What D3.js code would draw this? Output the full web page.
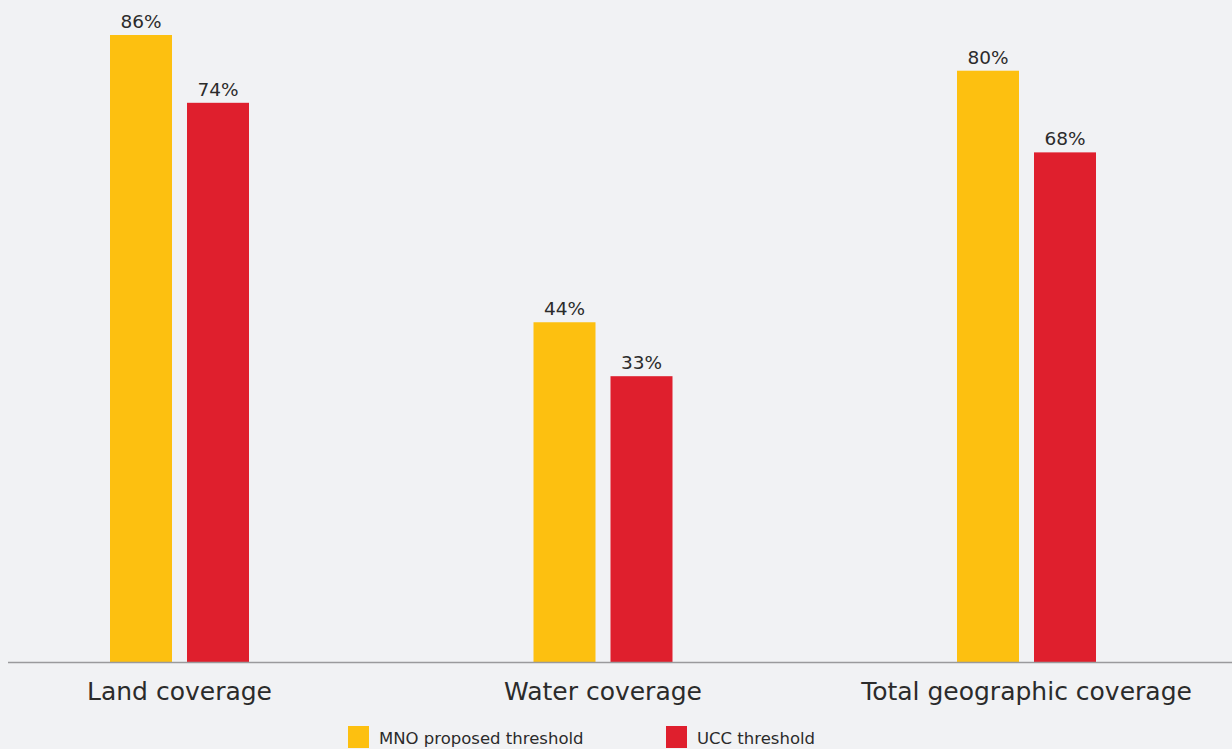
<!DOCTYPE html>
<html>
<head>
<meta charset="utf-8">
<script src="https://cdn.jsdelivr.net/npm/d3@7"></script>
<style>
  html, body { margin: 0; padding: 0; background: #f1f2f4; }
  svg { display: block; }
  text { font-family: "DejaVu Sans", sans-serif; fill: #2b2b2b; }
</style>
</head>
<body>
<svg id="chart" width="1232" height="749"></svg>
<script>
// Data
const categories = ["Land coverage", "Water coverage", "Total geographic coverage"];
const seriesNames = ["MNO proposed threshold", "UCC threshold"];
// Bar heights (percent)
const mnoValues = [86, 46.6, 81.1];
const uccValues = [76.7, 39.2, 69.9];
// Labels printed above the bars
const mnoLabels = ["86%", "44%", "80%"];
const uccLabels = ["74%", "33%", "68%"];
const colors = ["#fdc010", "#df1f2d"];

const svg = d3.select("#chart");
const W = 1232, H = 749;
const baseY = 662;

const x = d3.scaleBand().domain(categories).range([-32.25, 1238.25]).paddingInner(0).paddingOuter(0);
const xInner = d3.scaleBand().domain(seriesNames).range([0, 139]).paddingInner(15 / 77).paddingOuter(0);
const y = d3.scaleLinear().domain([0, 86]).range([baseY, 35]);

const rows = categories.map((c, i) => ({
  cat: c,
  vals: [
    { s: seriesNames[0], v: mnoValues[i], label: mnoLabels[i], color: colors[0] },
    { s: seriesNames[1], v: uccValues[i], label: uccLabels[i], color: colors[1] }
  ]
}));

const g = svg.selectAll("g.grp").data(rows).enter().append("g")
  .attr("class", "grp")
  .attr("transform", d => `translate(${x(d.cat) + x.bandwidth() / 2 - 69.5},0)`);

g.selectAll("rect").data(d => d.vals).enter().append("rect")
  .attr("x", d => xInner(d.s))
  .attr("width", xInner.bandwidth())
  .attr("y", d => y(d.v))
  .attr("height", d => baseY - y(d.v))
  .attr("fill", d => d.color);

g.selectAll("text.val").data(d => d.vals).enter().append("text")
  .attr("class", "val")
  .attr("x", d => xInner(d.s) + xInner.bandwidth() / 2)
  .attr("y", d => y(d.v) - 7)
  .attr("text-anchor", "middle")
  .style("font-size", "18.5px")
  .text(d => d.label);

// Axis
const axis = d3.axisBottom(x).tickSize(0).tickPadding(0);
const ax = svg.append("g").attr("transform", `translate(0,${baseY})`).call(axis);
ax.select(".domain").remove();
ax.selectAll(".tick text")
  .attr("y", 38)
  .attr("dy", 0)
  .style("font-size", "25px")
  .style("font-family", "'DejaVu Sans', sans-serif")
  .attr("fill", "#2b2b2b");
svg.append("line")
  .attr("x1", 8).attr("x2", W)
  .attr("y1", baseY + 0.5).attr("y2", baseY + 0.5)
  .attr("stroke", "#9a9a9c").attr("stroke-width", 1.3);

// Legend
const legendX = [348, 666];
const lg = svg.selectAll("g.leg").data(seriesNames).enter().append("g")
  .attr("class", "leg")
  .attr("transform", (d, i) => `translate(${legendX[i]},726)`);
lg.append("rect").attr("width", 21).attr("height", 22).attr("fill", (d, i) => colors[i]);
lg.append("text").attr("x", 31).attr("y", 18.3)
  .style("font-size", "16.5px")
  .text(d => d);
</script>
</body>
</html>
